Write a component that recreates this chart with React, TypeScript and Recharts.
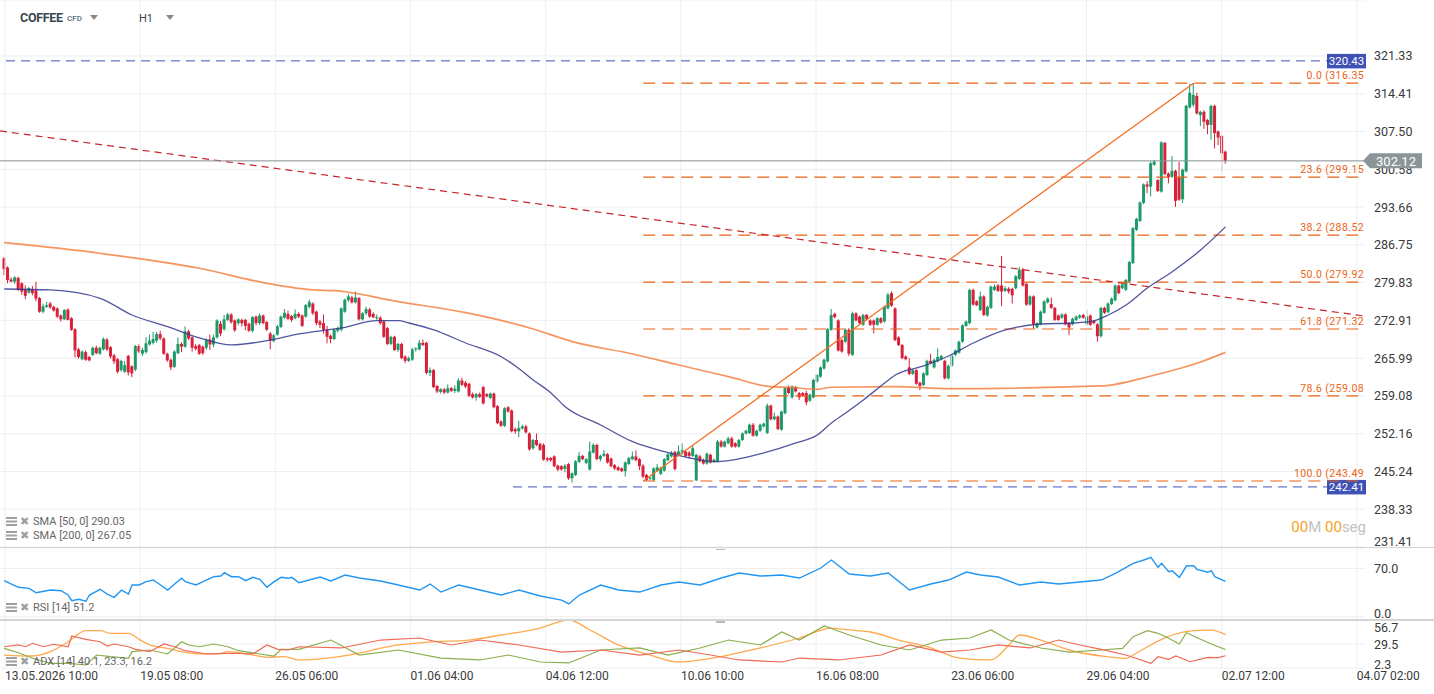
import React from "react";
import { ComposedChart, Bar, Line, XAxis, YAxis, CartesianGrid, ReferenceLine } from "recharts";

type Ohlc = [number, number, number, number];
type Pt = [number, number];

// H1 candles as [open, high, low, close], grouped by the period between axis labels
const from13May: Ohlc[] = [
  [284.3,284.5,281.2,282.3],[282.6,282.8,279.7,280.3],[280.4,280.8,279.9,280.0],[280.0,281.0,279.6,280.8],[280.7,280.9,278.3,278.5],[279.7,279.9,277.6,278.2],[278.6,279.3,276.8,277.4],[278.0,279.0,277.8,278.8],[278.6,279.2,277.5,277.9],[278.4,280.0,276.4,276.9],
  [277.0,277.2,274.3,274.5],[274.5,276.0,274.2,275.5],[275.4,276.3,275.2,275.7],[276.0,276.3,275.0,275.3],[275.4,275.6,274.5,274.7],[275.1,275.3,273.3,273.6],[273.8,274.0,272.7,273.1],[273.1,275.0,273.0,274.8],[274.9,275.1,272.9,273.0],[273.3,273.5,271.0,271.2],
  [271.3,271.5,266.1,267.4],[267.6,267.9,265.9,266.2],[265.8,267.4,265.6,267.2],[267.1,267.4,265.5,265.7],[266.2,266.4,265.4,265.6],[266.6,268.1,266.4,267.9],[267.9,268.3,266.7,266.9],[266.8,268.1,266.6,267.9],[267.6,269.8,267.4,269.5],[269.4,269.7,267.3,267.6],
  [268.0,268.2,265.9,266.3],[266.5,266.8,264.9,265.4],[265.8,266.0,263.2,263.5],[263.8,265.7,263.5,265.5],[263.5,265.5,263.3,264.7],[266.4,266.6,262.8,263.4],[264.5,264.7,262.5,263.2],[263.9,268.4,263.6,268.2],
];
const from19May: Ohlc[] = [
  [268.2,268.5,266.9,267.2],[266.8,267.9,266.4,267.5],[267.1,269.8,266.8,268.7],[268.5,270.3,268.3,269.2],[268.8,270.8,268.5,269.5],[269.2,270.8,268.8,270.4],[270.4,271.0,269.3,269.6],[269.6,269.8,266.6,266.8],[266.8,267.0,265.3,265.6],[265.7,265.9,263.8,264.3],
  [264.4,267.4,264.2,267.2],[266.9,269.8,266.7,268.6],[268.6,268.9,267.1,268.1],[268.1,271.8,267.9,270.9],[270.9,271.2,269.3,269.6],[269.8,270.0,267.2,267.9],[268.2,268.6,267.4,267.7],[268.4,268.6,266.6,266.8],[268.1,268.3,266.6,266.9],[267.9,269.6,267.5,269.3],
  [269.4,270.3,267.5,268.5],[268.5,270.3,268.0,269.8],[269.8,273.1,269.6,272.9],[272.3,272.8,270.0,270.5],[271.3,273.9,271.0,273.1],[273.0,274.3,272.8,274.0],[274.0,274.2,272.3,272.6],[272.9,273.1,270.8,271.1],[272.4,273.3,272.0,273.1],[273.0,273.2,271.8,272.4],
  [273.0,273.2,271.1,271.9],[272.3,272.5,270.8,271.0],[271.0,273.7,270.7,273.5],[273.6,273.8,272.0,272.4],[272.4,274.2,272.1,273.8],[273.8,274.0,272.2,272.4],[272.6,272.8,271.0,271.2],[270.5,270.8,267.6,269.2],
];
const from26May: Ohlc[] = [
  [269.1,270.4,268.9,270.2],[270.3,272.1,270.1,271.8],[271.7,273.8,271.5,273.6],[273.4,275.0,273.2,274.3],[274.1,274.7,273.0,273.2],[273.7,273.9,272.6,273.0],[273.3,274.9,273.1,274.1],[274.1,274.4,273.3,273.6],[273.8,274.0,271.7,271.9],[273.6,275.9,273.4,275.7],[275.4,276.7,275.1,276.3],[276.0,276.2,273.9,274.2],
  [274.5,274.7,272.0,272.4],[272.7,273.0,271.5,272.1],[272.4,274.0,270.5,271.2],[271.2,271.9,268.7,269.9],[270.1,270.3,268.7,269.5],[269.5,271.4,269.3,271.2],[271.0,271.8,270.7,271.5],[271.2,275.3,270.9,275.1],[274.5,276.9,274.3,276.7],[276.6,277.7,276.3,277.3],
  [277.1,277.4,276.0,276.2],[276.2,278.2,276.0,277.1],[277.0,277.2,272.9,273.1],[273.1,274.4,272.9,274.2],[274.2,275.4,273.9,275.0],[274.9,275.2,273.4,273.6],[274.1,274.4,273.3,273.5],[273.3,274.0,273.0,273.5],[273.4,273.7,272.1,272.4],[272.7,273.0,269.7,269.9],
  [271.5,271.7,268.4,268.6],[268.6,270.1,268.4,269.9],[269.9,270.1,267.3,267.5],[267.5,268.8,267.1,268.6],[268.6,268.8,265.8,266.0],[266.3,266.5,265.1,265.5],
];
const from01Jun: Ohlc[] = [
  [265.5,266.3,265.3,266.0],[265.7,267.9,265.5,267.6],[267.6,268.0,267.2,267.8],[267.6,269.3,267.4,268.8],[268.8,269.4,268.2,268.4],[268.8,269.0,263.0,263.3],[263.3,264.3,262.7,263.8],[263.8,264.0,260.5,260.7],[260.9,261.1,259.6,259.9],[259.8,260.5,259.5,260.3],
  [260.3,260.5,259.4,259.7],[259.7,261.2,259.5,260.5],[260.5,260.7,259.8,260.0],[260.0,261.0,259.6,260.4],[259.9,262.3,259.7,261.9],[261.9,262.4,260.9,261.1],[261.5,261.8,260.5,260.8],[261.3,261.5,258.9,259.1],[259.4,259.7,258.6,258.8],[258.8,259.6,258.2,259.4],
  [259.4,259.7,258.7,258.9],[260.7,260.9,257.5,257.7],[259.4,259.6,258.8,259.0],[258.7,259.7,258.5,259.5],[259.5,259.7,256.8,257.0],[257.2,257.4,253.9,254.1],[254.4,254.6,253.4,253.6],[253.6,257.0,253.4,256.8],[257.0,257.2,256.0,256.2],[256.4,256.6,252.4,252.6],
  [253.0,253.3,252.1,252.6],[252.6,254.5,251.5,253.2],[253.1,253.8,252.9,253.5],[253.5,253.8,252.2,252.4],[252.2,252.4,249.0,249.3],[249.5,251.2,249.2,251.0],[251.0,252.2,249.9,250.1],[250.3,250.5,249.0,249.2],
];
const from04Jun: Ohlc[] = [
  [250.1,250.4,247.2,247.4],[247.7,247.9,247.0,247.3],[247.7,247.9,247.0,247.3],[248.0,248.2,246.0,246.2],[246.3,246.5,245.3,245.6],[246.2,246.4,245.4,245.6],[245.7,246.6,245.1,246.3],[246.6,246.8,243.7,244.0],[244.0,245.1,243.2,244.9],[244.6,247.3,244.4,247.1],
  [247.0,248.8,246.8,248.1],[248.1,248.3,247.3,247.5],[246.8,247.7,246.6,247.5],[245.6,250.7,245.4,248.9],[248.7,250.4,248.5,250.1],[250.1,250.3,247.3,247.5],[247.5,248.3,247.1,248.1],[248.1,249.2,247.9,248.5],[248.4,248.6,246.7,246.9],[247.6,247.8,246.0,246.2],
  [246.4,246.6,245.5,245.8],[246.0,246.2,245.3,245.5],[245.8,246.0,245.1,245.3],[245.3,247.1,244.3,246.9],[246.6,247.9,246.4,247.7],[247.5,248.9,247.3,248.0],[248.0,249.1,247.1,247.3],[247.5,247.7,245.5,246.2],
  [246.3,246.6,244.0,244.3],[244.6,244.8,243.49,243.7],[243.9,244.4,243.6,244.1],[243.7,246.0,243.5,245.8],[245.4,246.6,245.2,246.0],[244.8,246.1,244.6,245.9],[245.4,247.7,245.2,247.5],[247.3,248.6,247.1,248.4],[248.0,249.0,247.8,248.7],[248.8,249.1,245.4,245.7],
];
const from10Jun: Ohlc[] = [
  [248.3,250.0,248.1,248.9],[248.6,250.4,248.3,249.2],[248.9,249.2,247.8,248.1],[248.7,249.0,247.8,248.1],[248.1,249.9,247.9,249.5],[243.6,248.5,243.5,248.3],[248.0,248.3,246.9,247.1],[247.4,247.6,246.5,246.7],[246.7,248.7,246.5,248.5],[248.3,248.5,246.7,246.9],
  [247.0,247.6,246.8,247.4],[247.1,251.0,246.9,250.7],[250.7,251.0,249.6,249.8],[249.8,250.9,249.6,250.7],[250.4,251.6,250.2,251.3],[251.3,251.6,249.6,249.8],[250.4,250.6,249.6,249.8],[249.8,251.2,249.6,251.0],[251.0,252.4,250.8,252.2],[252.2,252.9,252.0,252.7],
  [252.3,254.0,252.1,253.8],[253.8,254.1,251.6,251.8],[251.8,252.9,251.6,252.7],[252.7,254.0,252.5,253.8],[253.5,254.2,253.3,254.0],[252.3,257.7,252.1,257.3],[257.3,257.5,254.6,254.8],[254.8,256.0,254.6,255.3],[255.3,255.5,252.8,253.0],[252.9,256.4,252.7,256.2],
  [255.9,260.7,255.7,260.5],[260.7,261.0,259.4,259.6],[258.8,261.0,258.6,260.8],[260.7,260.9,259.7,259.9],[259.6,259.8,258.3,258.8],[259.6,259.8,258.9,259.1],[259.6,260.0,257.4,257.9],[258.2,259.5,258.0,259.3],
];
const from16Jun: Ohlc[] = [
  [258.8,262.2,258.6,262.0],[261.7,263.1,261.5,262.9],[262.6,264.5,262.4,264.3],[264.1,265.9,263.9,265.7],[265.4,271.5,265.2,271.3],[271.2,275.0,271.0,273.9],[274.1,274.3,273.3,273.5],[272.9,273.1,267.2,267.4],[269.3,269.5,267.0,267.2],[269.0,271.4,268.8,271.2],
  [271.2,271.5,266.4,266.8],[266.6,274.5,266.4,274.2],[274.2,274.4,272.7,272.9],[273.6,273.8,272.2,272.4],[272.1,274.1,271.9,273.9],[273.9,274.1,272.9,273.1],[272.9,273.1,271.9,272.1],[272.9,273.1,270.5,272.1],[272.1,273.5,271.9,273.3],[273.3,273.5,272.3,272.5],
  [272.7,275.6,272.5,275.4],[275.1,278.0,274.9,277.6],[277.9,278.2,275.4,275.6],[275.1,275.3,269.1,269.3],[269.8,270.0,268.2,268.4],[268.4,268.6,265.8,266.0],[266.3,266.5,265.6,265.8],[264.3,266.0,262.9,263.1],[263.1,264.0,262.9,263.8],[263.8,264.0,261.1,261.3],
  [261.5,261.7,260.1,260.9],[261.1,263.4,260.9,263.2],[262.9,265.7,262.7,265.5],[265.5,266.8,264.9,265.1],[264.3,265.9,264.1,265.7],[265.4,267.8,265.2,266.2],[265.8,266.6,265.6,266.4],[265.5,265.7,262.1,262.3],
];
const from23Jun: Ohlc[] = [
  [262.3,264.8,262.1,264.6],[264.6,266.6,264.4,266.4],
  [266.6,267.6,266.4,267.4],[267.0,269.2,266.8,269.0],[269.0,272.2,268.8,272.0],[271.9,272.9,271.7,272.7],[272.4,278.7,272.2,278.5],[278.5,278.7,275.6,275.8],[276.4,276.6,275.5,275.7],[274.8,278.2,274.6,277.3],[277.3,277.5,273.7,273.9],[273.8,275.6,273.6,275.4],
  [275.2,279.3,275.0,279.1],[278.5,279.5,278.3,279.1],[279.3,279.6,278.1,278.3],[279.3,284.7,275.5,278.2],[278.3,279.2,278.1,278.8],[278.7,279.0,277.8,278.2],[278.7,278.9,276.0,277.5],[278.8,281.2,278.6,281.0],[280.5,282.7,280.3,282.2],[282.2,282.5,279.1,279.3],
  [279.6,279.8,275.6,275.8],[275.8,277.5,275.6,277.3],[277.3,277.5,271.4,272.2],[271.6,272.6,271.4,272.4],[272.2,274.7,272.0,274.5],[274.3,276.6,274.1,276.4],[276.2,277.1,276.0,276.9],[275.9,277.1,275.0,275.2],[275.2,275.4,272.8,273.0],[273.8,274.0,272.8,273.0],
  [273.4,274.2,273.2,274.0],[274.0,274.2,272.0,272.2],[272.4,272.6,270.2,271.6],[272.2,273.4,272.0,273.2],[273.0,273.8,272.8,273.6],[273.4,274.0,273.2,273.8],
];
const from29Jun: Ohlc[] = [
  [273.9,274.1,273.2,273.4],[272.2,274.8,272.0,273.6],[273.8,274.0,271.9,272.1],[272.8,273.0,272.2,272.4],[272.2,272.4,269.0,270.0],[270.0,275.4,269.8,275.2],[275.2,275.4,274.1,274.3],[274.4,276.2,274.2,276.0],[275.9,277.1,275.7,276.9],[276.6,279.5,276.4,279.3],
  [279.3,279.5,277.7,277.9],[278.8,279.7,278.6,279.5],[278.5,280.5,278.3,280.3],[280.0,283.8,279.8,283.6],[283.4,290.0,283.2,289.8],[289.5,291.7,289.3,291.5],[291.1,294.7,290.9,294.5],[294.4,298.0,294.2,297.8],[297.8,298.4,296.2,297.4],[297.4,302.0,295.6,301.7],
  [301.4,302.3,301.2,302.0],[298.6,298.8,296.4,296.6],[296.5,305.7,296.3,305.5],[305.4,305.6,299.5,299.7],[299.8,300.0,298.0,299.1],[299.2,303.0,299.0,300.3],[300.3,300.5,293.7,294.8],[299.2,301.9,294.8,295.0],[295.1,300.7,294.4,300.5],
  [300.2,312.4,300.0,312.2],[311.9,316.2,311.7,314.6],[312.4,316.35,312.0,314.2],[314.0,314.6,310.6,310.8],[310.5,311.3,308.5,311.1],[311.1,311.4,308.0,309.3],[309.6,309.8,307.0,308.7],[308.7,312.4,306.0,312.2],[312.2,312.4,304.4,307.2],[307.5,307.7,305.0,306.4],[306.7,306.9,300.1,303.5],[303.8,304.0,301.6,302.12],
];

// indicator readings as [bar index, value]
const sma50Pts: Pt[] = [[0,278.66],[13,278.48],[27,276.96],[36,273.9],[46,271.76],[55,269.69],[64,268.41],[74,269.19],[83,270.42],[95,271.52],[105,272.85],[111,272.85],[114,272.43],[121,271.15],[130,268.77],[140,266.26],[144,264.56],[149,262.0],[154,259.62],[158,257.11],[168,253.76],[177,250.7],[186,248.87],[193,247.71],[200,247.04],[204,247.22],[214,248.63],[223,250.46],[229,251.93],[233,254.12],[237,255.95],[242,258.33],[248,261.45],[251,262.91],[259,264.56],[266,266.39],[273,268.77],[282,271.15],[292,272.25],[301,272.43],[306,272.67],[311,273.9],[316,275.73],[322,278.84],[329,281.83],[337,285.8],[344,290.03]];
const sma200Pts: Pt[] = [[0,287.14],[27,285.2],[55,282.45],[74,279.7],[87,278.48],[93,278.35],[111,276.34],[130,274.32],[149,271.34],[160,269.01],[177,266.76],[190,264.74],[204,262.6],[216,260.77],[221,260.66],[229,260.29],[233,260.66],[251,260.77],[266,260.4],[309,260.9],[323,262.73],[337,265.29],[344,267.05]];
const rsiPts: Pt[] = [[0,52.3],[2,47.5],[4,42.8],[7,41.3],[9,34.9],[13,38.8],[16,37.8],[18,31.6],[19,23.3],[21,25.4],[23,22.5],[24,31.6],[27,39.9],[29,33.0],[31,28.3],[33,38.8],[35,33.0],[36,46.1],[38,46.1],[40,50.9],[42,53.3],[44,46.1],[46,38.8],[48,47.5],[50,55.8],[51,50.9],[54,46.1],[56,50.9],[59,58.1],[61,59.1],[62,63.9],[64,58.1],[66,58.1],[68,52.3],[70,57.2],[72,54.3],[74,42.8],[76,50.9],[78,57.2],[80,55.8],[81,57.2],[83,49.4],[89,57.7],[92,51.9],[96,60.6],[100,56.2],[106,51.9],[111,46.1],[117,38.8],[120,47.5],[123,35.9],[128,46.1],[134,38.8],[140,31.6],[145,38.8],[151,30.1],[157,24.3],[159,18.6],[162,31.6],[168,46.1],[173,38.8],[179,35.9],[185,46.1],[190,50.4],[196,46.1],[202,56.2],[207,63.5],[213,59.1],[219,60.6],[224,56.2],[230,70.7],[233,82.3],[238,62.0],[244,59.1],[249,63.5],[255,38.8],[261,47.5],[266,53.3],[271,64.9],[275,60.6],[280,57.7],[286,46.1],[292,50.4],[297,47.5],[303,50.4],[309,53.3],[313,63.0],[318,77.5],[321,82.3],[323,86.2],[325,71.7],[326,77.5],[328,65.4],[329,66.8],[331,57.2],[333,73.6],[335,74.1],[336,68.8],[339,64.5],[340,66.8],[341,58.1],[344,51.2]];
const adxPts: Pt[] = [[0,17.0],[8,15.9],[13,20.8],[18,32.1],[23,44.6],[27,44.6],[30,41.6],[35,41.6],[38,34.8],[41,28.4],[46,24.6],[50,20.8],[55,18.2],[60,18.2],[63,20.8],[66,19.6],[70,17.0],[74,14.4],[79,15.1],[83,11.4],[97,17.0],[111,28.4],[120,31.8],[131,34.0],[140,39.7],[151,47.6],[159,56.7],[165,45.4],[173,28.4],[182,17.0],[190,9.1],[196,11.4],[204,17.0],[213,25.0],[224,36.3],[233,47.6],[238,45.4],[244,43.1],[252,34.0],[261,25.0],[269,13.6],[278,11.4],[283,28.4],[286,39.7],[292,34.0],[300,22.7],[309,15.9],[316,13.3],[318,17.0],[322,26.4],[326,34.8],[329,39.7],[335,44.6],[340,45.2],[344,40.1]];
const plusDiPts: Pt[] = [[0,24.6],[4,19.6],[8,13.3],[13,7.6],[18,7.6],[23,5.7],[26,17.0],[30,15.1],[35,13.3],[36,20.8],[41,22.7],[46,18.2],[50,32.1],[52,28.4],[55,26.4],[59,29.5],[63,26.4],[66,21.9],[72,18.2],[76,15.9],[78,23.5],[83,23.5],[92,34.0],[100,17.0],[111,22.7],[123,13.6],[134,11.4],[142,17.0],[151,9.1],[159,8.0],[168,22.7],[179,25.0],[187,17.0],[196,25.0],[204,34.0],[213,28.4],[219,43.1],[224,34.0],[231,49.9],[238,39.7],[247,28.4],[255,22.7],[264,34.0],[272,36.3],[278,45.4],[283,34.0],[292,25.0],[300,20.4],[309,22.7],[315,24.6],[318,37.8],[322,44.6],[325,41.6],[328,36.0],[331,29.5],[333,42.3],[337,34.8],[340,29.5],[344,23.3]];
const minusDiPts: Pt[] = [[0,26.4],[4,28.4],[6,26.4],[8,30.3],[11,26.4],[14,29.2],[18,26.4],[19,38.6],[23,34.8],[27,32.1],[29,27.2],[31,29.5],[35,26.4],[37,23.5],[41,20.8],[45,29.5],[48,26.4],[51,21.9],[57,18.2],[64,19.0],[70,18.2],[74,28.4],[77,23.5],[80,22.7],[83,26.4],[95,25.0],[106,34.0],[117,36.3],[126,28.4],[134,34.0],[145,28.4],[157,20.4],[168,22.7],[179,17.0],[190,22.7],[199,17.0],[207,11.4],[219,9.1],[224,13.6],[235,11.4],[247,17.0],[255,28.4],[264,20.4],[272,22.7],[280,28.4],[289,25.0],[297,34.0],[303,28.4],[309,23.5],[316,17.0],[323,7.6],[325,15.1],[328,12.2],[330,15.9],[334,9.4],[339,14.4],[342,14.1],[344,16.2]];

const TIME_LABELS = ["13.05.2026 10:00", "19.05 08:00", "26.05 06:00", "01.06 04:00", "04.06 12:00", "10.06 10:00", "16.06 08:00", "23.06 06:00", "29.06 04:00", "02.07 12:00", "04.07 02:00"];
const PRICE_TICKS = [321.33, 314.41, 307.5, 300.58, 293.66, 286.75, 279.83, 272.91, 265.99, 259.08, 252.16, 245.24, 238.33, 231.41];
const FIB_LEVELS: Pt[] = [[0, 316.35], [23.6, 299.15], [38.2, 288.52], [50, 279.92], [61.8, 271.32], [78.6, 259.08], [100, 243.49]];
const UPPER_MARK = 320.43;
const LOWER_MARK = 242.41;

const CANDLES: Ohlc[] = [...from13May, ...from19May, ...from26May, ...from01Jun, ...from04Jun, ...from10Jun, ...from16Jun, ...from23Jun, ...from29Jun];
const LAST_PRICE = CANDLES[CANDLES.length - 1][3];

const X_MIN = -1.2;
const X_MAX = 383.3;
const TICK_STEP = 38.08;
const TICK_IDX = TIME_LABELS.map((_, k) => 0.2 + TICK_STEP * k);
const FIB_FROM = 180;
const FIB_PEAK = 335;
const PRICE_DOMAIN: [number, number] = [231.41, 331.58];

const W = 1434;
const AXIS_W = 69;
const PLOT_RIGHT = W - AXIS_W;
const FONT = "Roboto, 'Noto Sans', sans-serif";
const GREEN = "#1e9a68";
const RED = "#d8203a";
const FIB = "#ec6316";
const BLUE = "#3f51b5";
const GRID = "#efefef";

const rows = CANDLES.map(([o, h, l, c], i) => ({ i, o, h, l, c, range: [l, h] }));
const series = (pts: Pt[]) => pts.map(([i, v]) => ({ i, v }));

const Candle = (props: any) => {
  const { x, y, width, height, payload } = props;
  if (!payload) return null;
  const { o, h, l, c } = payload;
  const color = c >= o ? GREEN : RED;
  const top = Math.min(y, y + height);
  const span = Math.abs(height);
  const k = span / (h - l || 1);
  const bTop = top + (h - Math.max(o, c)) * k;
  const bBot = top + (h - Math.min(o, c)) * k;
  const cx = x + width / 2;
  return (
    <g>
      <line x1={cx} x2={cx} y1={top} y2={top + span} stroke={color} strokeWidth={1} />
      <rect x={x} y={bTop} width={width} height={Math.max(1, bBot - bTop)} fill={color} />
    </g>
  );
};

// last-price tag, drawn by the price axis after its regular labels
const PriceTag = ({ y, value }: { y: number; value: number }) => {
  const r = PLOT_RIGHT;
  return (
    <g>
      <polygon points={`${r - 2},${y} ${r + 5},${y - 7.5} ${r + 57},${y - 7.5} ${r + 57},${y + 7.5} ${r + 5},${y + 7.5}`} fill="#8b9598" />
      <text x={r + 31} y={y} dy="0.36em" textAnchor="middle" fontSize={13} fill="#fff" fontFamily={FONT}>
        {value.toFixed(2)}
      </text>
    </g>
  );
};

// labels at a panel's edge are pulled inside it
const makeTick = (lo: number, hi: number, shiftLo: number, shiftHi: number, digits: number) => (p: any) => {
  const v = p.payload.value;
  if (v === LAST_PRICE && digits === 2) return <PriceTag y={p.y} value={v} />;
  const dy = v === lo ? shiftLo : v === hi ? shiftHi : 0;
  return (
    <text x={p.x + 1} y={p.y + dy} dy="0.36em" fontSize={12.5} fill="#3a3a3a" fontFamily={FONT}>
      {v.toFixed(digits)}
    </text>
  );
};

const TimeTick = (p: any) => {
  const k = Math.round((p.payload.value - 0.2) / TICK_STEP);
  return (
    <text x={p.x} y={p.y} dy="0.36em" fontSize={12} fill="#3a3a3a" fontFamily={FONT}>
      {TIME_LABELS[k]}
    </text>
  );
};

const FibText = ({ viewBox, text }: any) => (
  <text x={viewBox.x + viewBox.width - 1} y={viewBox.y - 4} textAnchor="end" fontSize={10.5} fill={FIB} fontFamily={FONT} letterSpacing={0.4}>
    {text}
  </text>
);

const MarkBox = ({ viewBox, text }: any) => {
  const r = viewBox.x + viewBox.width;
  return (
    <g>
      <rect x={r - 38} y={viewBox.y - 7} width={39} height={14.5} fill={BLUE} />
      <text x={r - 18.5} y={viewBox.y} dy="0.36em" textAnchor="middle" fontSize={11.5} fill="#fff" fontFamily={FONT}>
        {text}
      </text>
    </g>
  );
};

const vGrid = TICK_IDX.map((t) => <ReferenceLine key={"v" + t} x={t} stroke={GRID} ifOverflow="visible" />);

const ListIcon = () => (
  <svg width={11} height={9} style={{ marginRight: 3 }}>
    <rect x={0} y={0} width={11} height={2} fill="#a0a0a0" />
    <rect x={0} y={3.5} width={11} height={2} fill="#a0a0a0" />
    <rect x={0} y={7} width={11} height={2} fill="#a0a0a0" />
  </svg>
);

const Legend = ({ top, text }: { top: number; text: string }) => (
  <div style={{ position: "absolute", left: 6, top, display: "flex", alignItems: "center", fontSize: 11, color: "#666", fontFamily: FONT, whiteSpace: "nowrap" }}>
    <ListIcon />
    <span style={{ color: "#a0a0a0", fontSize: 11, marginRight: 4 }}>✖</span>
    {text}
  </div>
);

const Caret = ({ left }: { left: number }) => (
  <div style={{ position: "absolute", left, top: 15, width: 0, height: 0, borderLeft: "4px solid transparent", borderRight: "4px solid transparent", borderTop: "5px solid #888" }} />
);

const lineProps = { dot: false, activeDot: false, isAnimationActive: false } as const;

export default function App() {
  return (
    <div style={{ position: "absolute", left: 0, top: 0, width: W, height: 694, background: "#fff", overflow: "hidden", fontFamily: FONT }}>
      {/* price panel */}
      <div style={{ position: "absolute", left: 0, top: 0 }}>
        <ComposedChart width={W} height={547} data={rows} margin={{ top: 0, right: 0, bottom: 0, left: 0 }}>
          <XAxis type="number" dataKey="i" domain={[X_MIN, X_MAX]} hide allowDataOverflow />
          <YAxis orientation="right" width={AXIS_W} domain={PRICE_DOMAIN} ticks={[...PRICE_TICKS, LAST_PRICE]} interval={0} tick={makeTick(231.41, 999, -6, 0, 2)} axisLine={false} tickLine={false} allowDataOverflow />
          <CartesianGrid horizontal vertical={false} stroke={GRID} />
          {vGrid}
          <ReferenceLine y={UPPER_MARK} stroke={BLUE} strokeDasharray="9 6" ifOverflow="visible" label={<MarkBox text={UPPER_MARK.toFixed(2)} />} />
          <ReferenceLine segment={[{ x: 143.3, y: LOWER_MARK }, { x: X_MAX, y: LOWER_MARK }]} stroke={BLUE} strokeDasharray="9 6" ifOverflow="visible" label={<MarkBox text={LOWER_MARK.toFixed(2)} />} />
          {FIB_LEVELS.map(([pct, lv]) => (
            <ReferenceLine key={pct} segment={[{ x: FIB_FROM, y: lv }, { x: X_MAX, y: lv }]} stroke={FIB} strokeDasharray="12 7" strokeWidth={1.1} ifOverflow="visible" label={<FibText text={`${pct.toFixed(1)} (${lv.toFixed(2)}`} />} />
          ))}
          <Bar dataKey="range" barSize={3} shape={<Candle />} isAnimationActive={false} />
          <Line data={series(sma200Pts)} dataKey="v" type="monotone" stroke="#f27b38" strokeOpacity={0.8} strokeWidth={1.7} {...lineProps} />
          <Line data={series(sma50Pts)} dataKey="v" type="monotone" stroke="#34378f" strokeOpacity={0.85} strokeWidth={1.3} {...lineProps} />
          <ReferenceLine segment={[{ x: X_MIN, y: 307.6 }, { x: X_MAX, y: 273.7 }]} stroke="#c4262c" strokeDasharray="7 5" strokeWidth={1.2} ifOverflow="visible" />
          <ReferenceLine segment={[{ x: FIB_FROM, y: 243.49 }, { x: FIB_PEAK, y: 316.35 }]} stroke="#f26b1d" strokeWidth={1.2} ifOverflow="visible" />
          <ReferenceLine y={LAST_PRICE} stroke="#8b9598" strokeWidth={1} ifOverflow="visible" />
        </ComposedChart>
      </div>

      {/* RSI panel */}
      <div style={{ position: "absolute", left: 0, top: 548 }}>
        <ComposedChart width={W} height={72} data={rows} margin={{ top: 0, right: 0, bottom: 0, left: 0 }}>
          <XAxis type="number" dataKey="i" domain={[X_MIN, X_MAX]} hide allowDataOverflow />
          <YAxis orientation="right" width={AXIS_W} domain={[-4.6, 99.7]} ticks={[0, 70]} interval={0} tick={makeTick(0, 70, -3, 0, 1)} axisLine={false} tickLine={false} allowDataOverflow />
          <CartesianGrid horizontal vertical={false} stroke={GRID} />
          {vGrid}
          <Line data={series(rsiPts)} dataKey="v" type="linear" stroke="#2196f3" strokeWidth={1.4} {...lineProps} />
        </ComposedChart>
      </div>

      {/* ADX panel with the time axis */}
      <div style={{ position: "absolute", left: 0, top: 620 }}>
        <ComposedChart width={W} height={74} data={rows} margin={{ top: 0, right: 0, bottom: 0, left: 0 }}>
          <XAxis type="number" dataKey="i" domain={[X_MIN, X_MAX]} ticks={TICK_IDX} interval={0} height={26} tick={<TimeTick />} axisLine={false} tickLine={false} allowDataOverflow />
          <YAxis orientation="right" width={AXIS_W} domain={[2.3, 56.7]} ticks={[2.3, 29.5, 56.7]} interval={0} tick={makeTick(2.3, 56.7, -4, 7, 1)} axisLine={false} tickLine={false} allowDataOverflow />
          <CartesianGrid horizontal vertical={false} stroke={GRID} />
          {vGrid}
          <Line data={series(adxPts)} dataKey="v" type="monotone" stroke="#ffa94d" strokeWidth={1.3} {...lineProps} />
          <Line data={series(plusDiPts)} dataKey="v" type="linear" stroke="#8aae4c" strokeWidth={1.2} {...lineProps} />
          <Line data={series(minusDiPts)} dataKey="v" type="linear" stroke="#ee6a56" strokeWidth={1.2} {...lineProps} />
        </ComposedChart>
      </div>

      {/* panel separators */}
      <div style={{ position: "absolute", left: 0, top: 546.5, width: W, height: 1.5, background: "#d4d4d4" }} />
      <div style={{ position: "absolute", left: 0, top: 619, width: W, height: 1.5, background: "#d4d4d4" }} />
      <div style={{ position: "absolute", left: 716, top: 548.5, width: 9, height: 1.5, background: "#bbb" }} />
      <div style={{ position: "absolute", left: 716, top: 621, width: 9, height: 1.5, background: "#bbb" }} />

      {/* header */}
      <div style={{ position: "absolute", left: 20, top: 10, fontSize: 12.5, fontWeight: 700, color: "#37474f", letterSpacing: -0.3 }}>COFFEE</div>
      <div style={{ position: "absolute", left: 67, top: 14, fontSize: 8, fontWeight: 500, color: "#546e7a" }}>CFD</div>
      <Caret left={90} />
      <div style={{ position: "absolute", left: 139, top: 12, fontSize: 11, color: "#37474f" }}>H1</div>
      <Caret left={166} />

      {/* indicator legends */}
      <Legend top={515} text="SMA [50, 0] 290.03" />
      <Legend top={529} text="SMA [200, 0] 267.05" />
      <Legend top={601} text="RSI [14] 51.2" />
      <Legend top={655} text="ADX [14] 40.1, 23.3, 16.2" />

      {/* bar countdown */}
      <div style={{ position: "absolute", right: 68, top: 518, fontSize: 15, whiteSpace: "nowrap" }}>
        <span style={{ color: "#f5a21e" }}>00</span>
        <span style={{ color: "#c2c2c2" }}>M </span>
        <span style={{ color: "#f5a21e" }}>00</span>
        <span style={{ color: "#c2c2c2" }}>seg</span>
      </div>
    </div>
  );
}
